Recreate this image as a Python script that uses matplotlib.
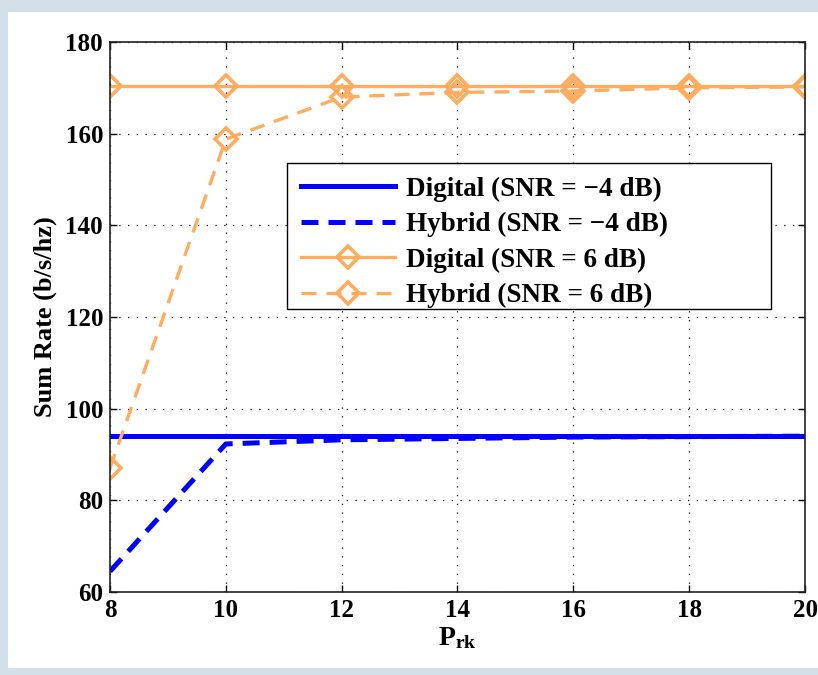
import matplotlib
matplotlib.use('Agg')
import matplotlib.pyplot as plt
from matplotlib.patches import Rectangle

plt.rcParams['font.family'] = ['Liberation Serif', 'DejaVu Serif']
plt.rcParams['font.weight'] = 'bold'
plt.rcParams['mathtext.fontset'] = 'custom'
plt.rcParams['mathtext.rm'] = 'Liberation Serif:bold'
plt.rcParams['mathtext.bf'] = 'Liberation Serif:bold'
plt.rcParams['mathtext.it'] = 'Liberation Serif:bold'

# 横轴
p_rk = [8, 10, 12, 14, 16, 18, 20]
# SNR = -4 dB
digital_m4 = [94.0, 94.0, 94.0, 94.0, 94.0, 94.0, 94.0]
hybrid_m4 = [64.5, 92.3, 93.2, 93.5, 93.8, 93.9, 94.0]
# SNR = 6 dB
digital_6 = [170.5, 170.5, 170.5, 170.5, 170.5, 170.5, 170.5]
hybrid_6 = [87.0, 158.8, 168.0, 169.0, 169.3, 170.0, 170.2]

blue = '#0000ff'
orange = '#ffac5e'

fig = plt.figure(figsize=(8.18, 6.75), dpi=100)
fig.patch.set_facecolor('#d3e0ea')
# 白色面板
fig.patches.append(Rectangle((8 / 818, 7 / 675), 1 - 8 / 818, 1 - 19 / 675,
                             transform=fig.transFigure, facecolor='white',
                             edgecolor='none', zorder=-1))

ax = fig.add_axes([110 / 818, 83 / 675, 695 / 818, 550 / 675])
ax.plot(p_rk, digital_m4, '-', color=blue, lw=3.6, label='Digital (SNR = \u22124 dB)')
ax.plot(p_rk, hybrid_m4, '--', color=blue, lw=3.6, dashes=(3.4, 2.0),
        label='Hybrid (SNR = \u22124 dB)')
ax.plot(p_rk, digital_6, '-', color=orange, lw=2.4, marker='D', ms=11,
        mfc='none', mec=orange, mew=2.6, label='Digital (SNR = 6 dB)')
ax.plot(p_rk, hybrid_6, '--', color=orange, lw=2.4, dashes=(4.5, 3), marker='D', ms=11,
        mfc='none', mec=orange, mew=2.6, label='Hybrid (SNR = 6 dB)')

ax.set_xlim(8, 20)
ax.set_ylim(60, 180)
ax.set_xticks(p_rk)
ax.set_yticks([60, 80, 100, 120, 140, 160, 180])
ax.grid(True, color='black', linestyle=(0, (1, 6)), linewidth=0.9)
ax.tick_params(direction='in', top=True, right=True, labelsize=18, length=5, width=1, pad=5)
for s in ax.spines.values():
    s.set_linewidth(1.2)
    s.set_color('#222222')

ax.set_xlabel(r'$\mathbf{P}_{\mathbf{rk}}$', fontsize=20, labelpad=2)
ax.set_ylabel('Sum Rate (b/s/hz)', fontsize=19, fontweight='bold', labelpad=6)

# 图例框（右侧留白较宽）
ax.add_patch(Rectangle((0.2547, 0.5145), 0.6963, 0.2655, transform=ax.transAxes,
                       facecolor='white', edgecolor='black', lw=1.0, zorder=4.5))
leg = ax.legend(loc='upper left', bbox_to_anchor=(0.2547, 0.78), fontsize=19.5,
                frameon=False, handlelength=3.5, handletextpad=0.4,
                borderpad=0.5, labelspacing=0.38, borderaxespad=0)
leg.set_zorder(5)

fig.savefig('out.png', dpi=100, facecolor=fig.get_facecolor())
